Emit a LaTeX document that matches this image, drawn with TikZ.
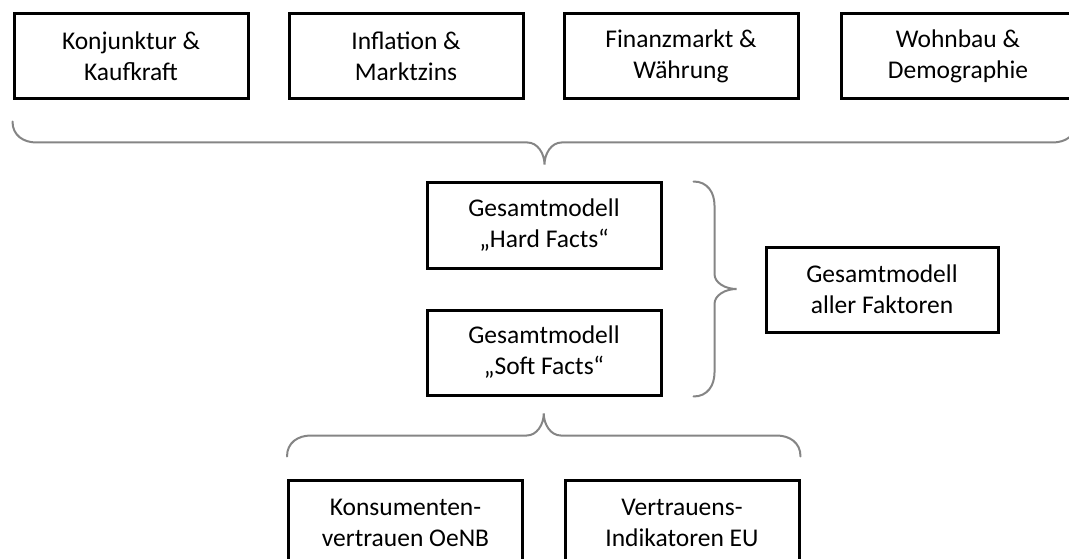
\documentclass[tikz,border=0pt]{standalone}
\usepackage{fontspec}
\setmainfont{Carlito}
\usepackage{tikz}
\usetikzlibrary{calc}

\tikzset{
  factorbox/.style={draw, line width=3pt, minimum width=234pt, minimum height=85pt,
    inner sep=0pt, align=center, font=\fontsize{25.5}{31}\selectfont},
  curly/.style={draw=black!48, line width=2pt, line cap=round},
}

\begin{document}
\begin{tikzpicture}[x=1pt,y=1pt,yscale=-1,xscale=1]
\useasboundingbox (0,0) rectangle (1069,559);

%Shape: Rectangle (top row)
\node [factorbox] (konj) at (131,56.5) {Konjunktur \&\\Kaufkraft};
\node [factorbox] (infl) at (406,56.5) {Inflation \&\\Marktzins};
\node [factorbox] (fin) at (681,56.5) {Finanzmarkt \&\\Währung};
\node [factorbox] (wohn) at (958,56.5) {Wohnbau \&\\Demographie};

%Shape: Rectangle (middle)
\node [factorbox] (hard) at (544,225.5) {Gesamtmodell\\„Hard Facts“};
\node [factorbox] (soft) at (544,352.5) {Gesamtmodell\\„Soft Facts“};
\node [factorbox, minimum width=232pt] (alle) at (882,289.5) {Gesamtmodell\\aller Faktoren};

%Shape: Rectangle (bottom row)
\node [factorbox] (oenb) at (405.5,522.5) {Konsumenten-\\vertrauen OeNB};
\node [factorbox] (eu) at (682,522.5) {Vertrauens-\\Indikatoren EU};

%Brace end points
\coordinate (topL) at ([yshift=21pt]konj.south west);
\coordinate (topR) at ([yshift=21pt]wohn.south east);
\coordinate (topM) at ($(topL)!0.5!(topR)$);
\coordinate (midT) at ([xshift=31pt]hard.north east);
\coordinate (midB) at ([xshift=31pt]soft.south east);
\coordinate (midM) at ($(midT)!0.5!(midB)$);
\coordinate (botL) at ([yshift=-22pt]oenb.north west);
\coordinate (botR) at ([yshift=-22pt]eu.north east);
\coordinate (botM) at ($(botL)!0.5!(botR)$);

%Brace: top, tip down
\draw [curly] (topL) .. controls ($(topL)+(0,14)$) and ($(topL)+(11,21)$) .. ($(topL)+(24,21)$)
  -- ($(topM)+(-17,21)$) .. controls ($(topM)+(-7,21)$) and ($(topM)+(0,32)$) .. ($(topM)+(0,43)$)
  .. controls ($(topM)+(0,32)$) and ($(topM)+(7,21)$) .. ($(topM)+(17,21)$)
  -- ($(topR)+(-24,21)$) .. controls ($(topR)+(-11,21)$) and ($(topR)+(0,14)$) .. (topR);
%Brace: right, tip right
\draw [curly] (midT) .. controls ($(midT)+(14,0)$) and ($(midT)+(21,11)$) .. ($(midT)+(21,24)$)
  -- ($(midM)+(21,-15)$) .. controls ($(midM)+(21,-6)$) and ($(midM)+(32,0)$) .. ($(midM)+(43,0)$)
  .. controls ($(midM)+(32,0)$) and ($(midM)+(21,6)$) .. ($(midM)+(21,15)$)
  -- ($(midB)+(21,-24)$) .. controls ($(midB)+(21,-11)$) and ($(midB)+(14,0)$) .. (midB);
%Brace: bottom, tip up
\draw [curly] (botL) .. controls ($(botL)+(0,-14)$) and ($(botL)+(11,-21)$) .. ($(botL)+(24,-21)$)
  -- ($(botM)+(-17,-21)$) .. controls ($(botM)+(-7,-21)$) and ($(botM)+(0,-32)$) .. ($(botM)+(0,-43)$)
  .. controls ($(botM)+(0,-32)$) and ($(botM)+(7,-21)$) .. ($(botM)+(17,-21)$)
  -- ($(botR)+(-24,-21)$) .. controls ($(botR)+(-11,-21)$) and ($(botR)+(0,-14)$) .. (botR);

\end{tikzpicture}
\end{document}
